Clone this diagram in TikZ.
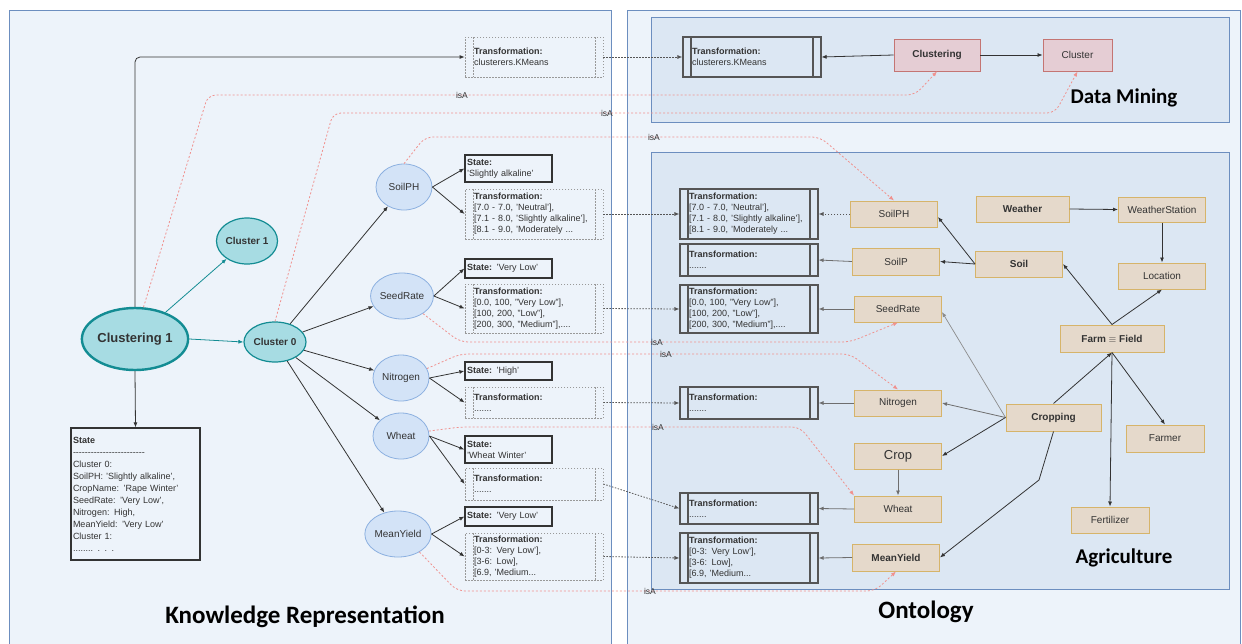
\documentclass[tikz,border=0pt]{standalone}
\usepackage{fontspec}
\setmainfont{Liberation Sans}
\newfontfamily\titlefont{Carlito}
\usepackage{tikz}
\usetikzlibrary{arrows.meta,shapes.geometric}
\definecolor{panelbg}{HTML}{EDF3FA}
\definecolor{subbg}{HTML}{DCE7F3}
\definecolor{panelc}{HTML}{6C8EBF}
\definecolor{tealbg}{HTML}{A7DCE3}
\definecolor{tealc}{HTML}{138C93}
\definecolor{attrbg}{HTML}{D3E3F7}
\definecolor{attrc}{HTML}{8CB0E0}
\definecolor{concbg}{HTML}{E5D9CB}
\definecolor{concc}{HTML}{D6B46A}
\definecolor{pinkbg}{HTML}{E5CDD4}
\definecolor{pinkc}{HTML}{C47573}
\definecolor{isac}{HTML}{F0928F}
\definecolor{dotc}{HTML}{999999}
\definecolor{procc}{HTML}{555555}
\definecolor{txtc}{HTML}{333333}

\begin{document}
\begin{tikzpicture}[
  x=1pt, y=-1pt, >={Latex[length=5pt,width=4pt]},
  every node/.style={font=\fontsize{9}{11}\selectfont, text=txtc},
  panel/.style={draw=panelc, fill=panelbg, line width=1pt},
  subpanel/.style={draw=panelc, fill=subbg, line width=1pt},
  title/.style={font=\titlefont\bfseries\fontsize{25}{30}\selectfont, text=black},
  subtitle/.style={font=\titlefont\bfseries\fontsize{21}{25}\selectfont, text=black},
  clus/.style={ellipse, draw=tealc, fill=tealbg, line width=1.2pt, inner sep=0pt,
    font=\bfseries\fontsize{10}{12}\selectfont},
  attr/.style={ellipse, draw=attrc, fill=attrbg, line width=0.8pt, inner sep=0pt,
    minimum width=56pt, minimum height=46pt, font=\fontsize{10}{12}\selectfont},
  statebox/.style={draw=black!80, line width=1.3pt, minimum width=87pt, text width=83pt,
    inner xsep=2pt, inner ysep=1pt, align=left},
  proc/.style={rectangle, draw, #1, align=left, minimum width=138pt, text width=120pt,
    inner xsep=9pt, inner ysep=1.5pt,
    path picture={\draw[#1]
      ([xshift=8pt]path picture bounding box.north west) -- ([xshift=8pt]path picture bounding box.south west)
      ([xshift=-8pt]path picture bounding box.north east) -- ([xshift=-8pt]path picture bounding box.south east);}},
  ontproc/.style={proc={draw=procc, line width=1.1pt}},
  kbproc/.style={proc={draw=dotc, line width=0.8pt, dash pattern=on 1.5pt off 1.5pt}},
  concept/.style={draw=concc, fill=concbg, line width=1pt, minimum width=87pt,
    minimum height=26pt, inner sep=1pt, font=\fontsize{10}{12}\selectfont},
  dmbox/.style={draw=pinkc, fill=pinkbg, line width=0.9pt, minimum height=32pt,
    inner sep=1pt, font=\fontsize{10}{12}\selectfont},
  isa/.style={draw=isac, line width=0.8pt, dash pattern=on 2pt off 2pt, rounded corners=8pt,
    -{Latex[length=5pt,width=4pt,fill=isac]}},
  isalbl/.style={font=\fontsize{8.5}{9}\selectfont, inner sep=0.5pt},
  link/.style={->, draw=procc, line width=0.8pt, dash pattern=on 1.5pt off 1.5pt},
  rel/.style={->, draw=black!80, line width=0.8pt},
  grel/.style={->, draw=procc!85, line width=0.8pt}
]
  \useasboundingbox (0,0) rectangle (1242,643);
  % panels
  \draw[panel] (9.5,10) rectangle (611,648);
  \draw[panel] (627,10) rectangle (1240,648);
  \draw[subpanel] (651,17) rectangle (1229,122);
  \draw[subpanel] (651,152) rectangle (1229,589);
  \node[title] (kr) at (305,617) {Knowledge Representation};
  \node[title] (onto) at (926,612) {Ontology};
  \node[subtitle] (dm) at (1124,98) {Data Mining};
  \node[subtitle] (agri) at (1124,558) {Agriculture};

  % knowledge representation: clusters
  \node[clus, line width=2.4pt, minimum width=104pt, minimum height=62pt,
    font=\bfseries\fontsize{13}{15}\selectfont] (cl1) at (135,339) {Clustering 1};
  \node[clus, minimum width=61pt, minimum height=46pt] (cu1) at (247,241) {Cluster 1};
  \node[clus, minimum width=62pt, minimum height=40pt] (cu0) at (275,342) {Cluster 0};
  \node[draw=black!80, line width=1.2pt, minimum width=129pt, minimum height=132pt,
    text width=125pt, inner xsep=2pt, align=left, font=\fontsize{9}{12}\selectfont]
    (clstate) at (135.5,494) {\textbf{State}\\
    \foreach \i in {1,...,24}{-}\\
    Cluster 0:\\
    SoilPH: 'Slightly alkaline',\\
    CropName: 'Rape Winter'\\
    SeedRate: 'Very Low',\\
    Nitrogen: High,\\
    MeanYield: 'Very Low'\\
    Cluster 1:\\
    ........ . . .};
  \node[kbproc, minimum height=40pt] (kKMeans) at (534,57)
    {\textbf{Transformation:}\\clusterers.KMeans};

  % attributes
  \node[attr] (aSoilPH) at (404,187) {SoilPH};
  \node[attr] (aSeedRate) at (402,296) {SeedRate};
  \node[attr] (aNitrogen) at (401,378) {Nitrogen};
  \node[attr] (aWheat) at (401,436) {Wheat};
  \node[attr] (aMeanYield) at (398,534) {MeanYield};

  % states
  \node[statebox, minimum height=27pt] (sSoilPH) at (508.5,168.5)
    {\textbf{State:}\\'Slightly alkaline'};
  \node[statebox, minimum height=19pt] (sSeedRate) at (508.5,268.5)
    {\textbf{State:} 'Very Low'};
  \node[statebox, minimum height=18pt] (sNitrogen) at (508.5,371)
    {\textbf{State:} 'High'};
  \node[statebox, minimum height=27pt] (sWheat) at (508.5,449.5)
    {\textbf{State:}\\'Wheat Winter'};
  \node[statebox, minimum height=19pt] (sMeanYield) at (508.5,516.5)
    {\textbf{State:} 'Very Low'};

  % transformations (knowledge side)
  \node[kbproc, minimum height=50pt] (kSoilPH) at (534,214)
    {\textbf{Transformation:}\\{}[7.0 - 7.0, 'Neutral'],\\{}[7.1 - 8.0, 'Slightly alkaline'],\\{}[8.1 - 9.0, 'Moderately ...};
  \node[kbproc, minimum height=49pt] (kSeedRate) at (534,308.5)
    {\textbf{Transformation:}\\{}[0.0, 100, "Very Low"],\\{}[100, 200,  "Low"],\\{}[200, 300, "Medium"],....};
  \node[kbproc, minimum height=31pt] (kNitrogen) at (534,402.5)
    {\textbf{Transformation:}\\.......};
  \node[kbproc, minimum height=32pt] (kWheat) at (534,484)
    {\textbf{Transformation:}\\.......};
  \node[kbproc, minimum height=47pt] (kMeanYield) at (534,556.5)
    {\textbf{Transformation:}\\{}[0-3: Very Low'],\\{}[3-6: Low],\\{}[6.9, 'Medium...};

  % data mining
  \node[ontproc, minimum height=40pt] (tKMeans) at (752,57)
    {\textbf{Transformation:}\\clusterers.KMeans};
  \node[dmbox, minimum width=86pt, font=\bfseries\fontsize{10}{12}\selectfont] (pClustering) at (937,55) {Clustering};
  \node[dmbox, minimum width=69pt] (pCluster) at (1077.5,55) {Cluster};

  % agriculture: transformations
  \node[ontproc, minimum height=50pt] (tSoilPH) at (749,214)
    {\textbf{Transformation:}\\{}[7.0 - 7.0, 'Neutral'],\\{}[7.1 - 8.0, 'Slightly alkaline'],\\{}[8.1 - 9.0, 'Moderately ...};
  \node[ontproc, minimum height=32pt] (tSoilP) at (749,260)
    {\textbf{Transformation:}\\.......};
  \node[ontproc, minimum height=48pt] (tSeedRate) at (749,309)
    {\textbf{Transformation:}\\{}[0.0, 100, "Very Low"],\\{}[100, 200,  "Low"],\\{}[200, 300, "Medium"],....};
  \node[ontproc, minimum height=32pt] (tNitrogen) at (749,403)
    {\textbf{Transformation:}\\.......};
  \node[ontproc, minimum height=31pt] (tWheat) at (749,508.5)
    {\textbf{Transformation:}\\.......};
  \node[ontproc, minimum height=50pt] (tMeanYield) at (749,558)
    {\textbf{Transformation:}\\{}[0-3: Very Low'],\\{}[3-6: Low],\\{}[6.9, 'Medium...};

  % agriculture: concepts
  \node[concept] (oSoilPH) at (894,214) {SoilPH};
  \node[concept, minimum height=27pt] (oSoilP) at (896,261.5) {SoilP};
  \node[concept] (oSeedRate) at (898,309) {SeedRate};
  \node[concept] (oNitrogen) at (898,403) {Nitrogen};
  \node[concept, font=\fontsize{13}{15}\selectfont] (oCrop) at (898,456) {Crop};
  \node[concept] (oWheat) at (898,509) {Wheat};
  \node[concept, minimum height=27pt, font=\bfseries\fontsize{10}{12}\selectfont] (oMeanYield) at (896,557.5) {MeanYield};
  \node[concept, minimum width=93pt, font=\bfseries\fontsize{10}{12}\selectfont] (oWeather) at (1022.5,209) {Weather};
  \node[concept, minimum height=25pt] (oStation) at (1162,209.5) {WeatherStation};
  \node[concept, font=\bfseries\fontsize{10}{12}\selectfont] (oSoil) at (1019,264) {Soil};
  \node[concept] (oLocation) at (1162,276) {Location};
  \node[concept, minimum width=104pt, minimum height=27pt, font=\bfseries\fontsize{10}{12}\selectfont] (oFarm) at (1112,338.5) {Farm $\equiv$ Field};
  \node[concept, minimum width=95pt, minimum height=27pt, font=\bfseries\fontsize{10}{12}\selectfont] (oCropping) at (1053.5,417.5) {Cropping};
  \node[concept, minimum width=78pt, minimum height=27pt] (oFarmer) at (1165,438.5) {Farmer};
  \node[concept, minimum width=78pt] (oFertilizer) at (1110,520) {Fertilizer};
  \coordinate (bendMY) at (1039,480);

  % cluster arrows
  \draw[rel, rounded corners=5pt] (cl1.north) |- (kKMeans.west);
  \draw[rel] (cl1.south) -- (clstate.north);
  \draw[->, draw=tealc, line width=0.8pt] (cl1) -- (cu1);
  \draw[->, draw=tealc, line width=0.8pt] (cl1.east) -- (cu0.west);
  \foreach \a in {SoilPH,SeedRate,Nitrogen,Wheat,MeanYield}{
    \draw[rel] (cu0) -- (a\a);
    \draw[rel] (a\a.east) -- (s\a.west);
    \draw[rel] (a\a.east) -- (k\a.west);
  }

  % knowledge -> ontology links
  \draw[link] (kKMeans.east) -- (tKMeans.west);
  \foreach \a in {SoilPH,SeedRate,Nitrogen,Wheat,MeanYield}
    \draw[link] (k\a.east) -- (t\a.west);

  % isA
  \draw[isa] (cl1.75) -- (208,95) -- (915,95) -- (pClustering.south);
  \draw[isa] (cu0.north) -- (333,113) -- (1055,113) -- (pCluster.south);
  \draw[isa] (aSoilPH.north) -- (425,137) -- (820,137) -- (oSoilPH.north);
  \draw[isa] (aSeedRate.-40) -- (460,342) -- (850,342) -- (oSeedRate.south);
  \draw[isa] (aNitrogen.20) -- (460,354) -- (850,354) -- (oNitrogen.north);
  \draw[isa] (aWheat.10) -- (460,427) -- (800,427) -- (oWheat.north west);
  \draw[isa] (aMeanYield.-40) -- (457,591) -- (875,591) -- (oMeanYield.south);
  \node[isalbl] (isA1) at (462,95) {isA};
  \node[isalbl] (isA2) at (607,113) {isA};
  \node[isalbl] (isA3) at (654,137) {isA};
  \node[isalbl] (isA4) at (657,342) {isA};
  \node[isalbl] (isA5) at (666,354) {isA};
  \node[isalbl] (isA6) at (658,427) {isA};
  \node[isalbl] (isA7) at (650,591) {isA};

  % data mining arrows
  \draw[rel] (pClustering.west) -- (tKMeans.east);
  \draw[rel] (pClustering.east) -- (pCluster.west);

  % agriculture arrows
  \draw[link] (oSoilPH.west) -- (tSoilPH.east);
  \foreach \a in {SoilP,SeedRate,Nitrogen,Wheat,MeanYield}
    \draw[grel] (o\a.west) -- (t\a.east);
  \draw[rel] (oWeather.east) -- (oStation.west);
  \draw[rel] (oStation.south) -- (oLocation.north);
  \draw[rel] (oSoil.west) -- ([yshift=-3pt]oSoilPH.east);
  \draw[rel] (oSoil.west) -- (oSoilP.east);
  \draw[rel] (oFarm.north) -- (oSoil.east);
  \draw[rel] (oFarm.north) -- (oLocation.south);
  \draw[rel] (oFarm.south) -- (oFarmer.north);
  \draw[rel] (oFarm.south) -- (oFertilizer.north);
  \draw[rel] (oCropping.north) -- (oFarm.south);
  \draw[->, draw=black!45, line width=0.7pt] (oCropping.west) -- ([yshift=-3pt]oSeedRate.east);
  \draw[grel] (oCropping.west) -- (oNitrogen.east);
  \draw[rel] (oCropping.west) -- (oCrop.east);
  \draw[rel] (oCropping.south) -- (bendMY) -- (oMeanYield.east);
  \draw[grel] (oCrop.south) -- (oWheat.north);
\end{tikzpicture}
\end{document}
